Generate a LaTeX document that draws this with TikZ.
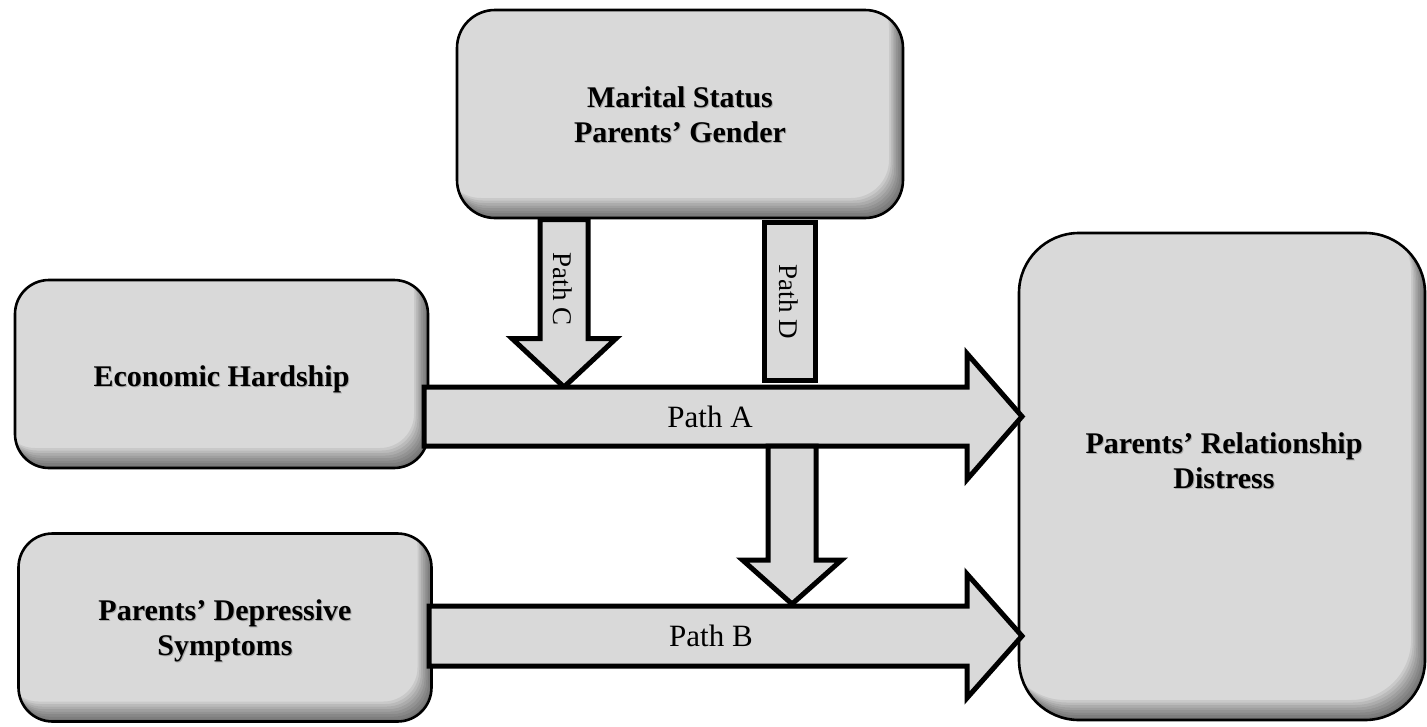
\documentclass[tikz,border=0pt]{standalone}
\usepackage{fontspec}
\setmainfont{Liberation Serif}
\usetikzlibrary{calc}

\definecolor{boxgray}{HTML}{D9D9D9}

\newcommand\boxfont{\fontsize{30}{35}\selectfont\bfseries}

\tikzset{
  panel/.style={rectangle, fill=boxgray, outer sep=0pt, inner sep=0pt},
  paneltext/.style={align=center, font=\boxfont, inner sep=0pt},
  panelglow/.style={paneltext, text=black, opacity=0.22},
  panelline/.style={draw=black, line width=2.6pt},
  blockarrow/.style={fill=boxgray, draw=black, line width=5pt, miter limit=10},
  bigtag/.style={font=\fontsize{31}{36}\selectfont, inner sep=0pt},
  smalltag/.style={font=\fontsize{27}{32}\selectfont, inner sep=0pt, rotate=-90},
}

% soft shading along the lower and right inner edges of a rounded panel,
% then its outline
\newcommand\panelshade[2]{%
  \begin{scope}
    \clip[rounded corners=#2] (#1.south west) rectangle (#1.north east);
    \foreach \sh in {2.5,5,...,20}{
      \fill[black, opacity=0.07, even odd rule] (-50,-50) rectangle (1500,800)
        [rounded corners=#2] ([shift={(-0.7*\sh,-\sh)}]#1.south west)
        rectangle ([shift={(-0.7*\sh,-\sh)}]#1.north east);
    }
  \end{scope}
  \draw[panelline, rounded corners=#2] (#1.south west) rectangle (#1.north east);
}

% bold panel caption with a faint offset shadow
\newcommand\panelcaption[3]{%
  \node[panelglow] (#1glow) at ($(#2)+(1,1)$) {#3};
  \node[paneltext] (#1) at (#2) {#3};
}

% block arrow pointing right: start, tip, shaft half height, head half height, head length
\newcommand\hblock[5]{%
  \draw[blockarrow] ($(#1)+(0,-#3)$) -- ($(#2)+(-#5,-#3)$) -- ($(#2)+(-#5,-#4)$) -- (#2)
    -- ($(#2)+(-#5,#4)$) -- ($(#2)+(-#5,#3)$) -- ($(#1)+(0,#3)$) -- cycle;}
% block arrow pointing down: start, tip, shaft half width, head half width, head length
\newcommand\vblock[5]{%
  \draw[blockarrow] ($(#1)+(-#3,0)$) -- ($(#2)+(-#3,-#5)$) -- ($(#2)+(-#4,-#5)$) -- (#2)
    -- ($(#2)+(#4,-#5)$) -- ($(#2)+(#3,-#5)$) -- ($(#1)+(#3,0)$) -- cycle;}

\begin{document}
\begin{tikzpicture}[x=1pt, y=-1pt]
  \useasboundingbox (0,0) rectangle (1427,726);

  % panels
  \node[panel, rounded corners=38pt, minimum width=446pt, minimum height=208pt]
    (mar) at (680,114) {};
  \panelshade{mar}{38pt}
  \coordinate (marC) at (680,115);
  \panelcaption{martext}{marC}{Marital Status\\Parents’ Gender}

  \node[panel, rounded corners=34pt, minimum width=413pt, minimum height=188pt]
    (eco) at (221.5,374) {};
  \panelshade{eco}{34pt}
  \coordinate (ecoC) at (221.5,379);
  \panelcaption{ecotext}{ecoC}{Economic Hardship}

  \node[panel, rounded corners=34pt, minimum width=413pt, minimum height=188pt]
    (dep) at (225,627.5) {};
  \panelshade{dep}{34pt}
  \coordinate (depC) at (225,631);
  \panelcaption{deptext}{depC}{Parents’ Depressive\\Symptoms}

  \node[panel, rounded corners=60pt, minimum width=406pt, minimum height=487pt]
    (rel) at (1222,476.5) {};
  \panelshade{rel}{60pt}
  \coordinate (relC) at (1224,461);
  \panelcaption{reltext}{relC}{Parents’ Relationship\\Distress}

  % arrow end points
  \coordinate (aS) at ($(eco.east)+(-4,42.5)$);
  \coordinate (aT) at ($(rel.west)+(3,-60)$);
  \coordinate (bS) at ($(dep.east)+(-2.5,8.5)$);
  \coordinate (bT) at ($(rel.west)+(3,159.5)$);
  \coordinate (cS) at ($(mar.south)+(-116,1.5)$);
  \coordinate (cT) at ($(aS)+(140,-29.5)$);
  \coordinate (dA) at ($(mar.south)+(84.5,4.5)$);
  \coordinate (dB) at ($(aS)+(391.5,-36)$);
  \coordinate (eS) at ($(aS)+(368,29.5)$);
  \coordinate (eT) at ($(bS)+(363,-32)$);

  % Path C
  \vblock{cS}{cT}{24}{52}{48.5}
  \node[smalltag] (tagC) at (563,289) {Path C};

  % Path D
  \draw[blockarrow] (dA) rectangle (dB);
  \node[smalltag] (tagD) at (789,302) {Path D};

  % Path A
  \hblock{aS}{aT}{29.5}{63}{55}
  \node[bigtag] (tagA) at (710,417) {Path A};

  % moderation onto Path B
  \vblock{eS}{eT}{24}{49.5}{44}

  % Path B
  \hblock{bS}{bT}{30}{62}{55}
  \node[bigtag] (tagB) at (711,636) {Path B};
\end{tikzpicture}
\end{document}
